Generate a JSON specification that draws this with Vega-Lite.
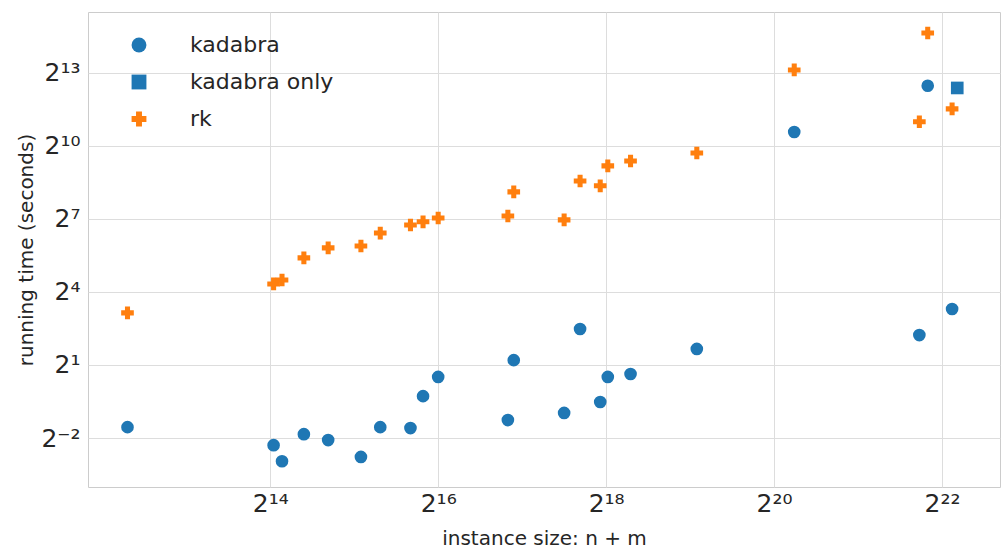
{
  "$schema": "https://vega.github.io/schema/vega-lite/v6.json",
  "width": 912,
  "height": 475,
  "autosize": "none",
  "padding": {"left": 88, "top": 12, "right": 7, "bottom": 71},
  "config": {
    "font": "DejaVu Sans",
    "view": {"stroke": "#cccccc"},
    "axis": {"gridColor": "#dddddd", "domain": false, "ticks": false, "labelColor": "#262626", "titleColor": "#262626", "titleFontWeight": "normal"}
  },
  "data": {
    "values": [
      {"size": 5043, "time": 0.341, "series": "kadabra"},
      {"size": 16845, "time": 0.204, "series": "kadabra"},
      {"size": 18056, "time": 0.129, "series": "kadabra"},
      {"size": 21627, "time": 0.279, "series": "kadabra"},
      {"size": 26430, "time": 0.236, "series": "kadabra"},
      {"size": 34636, "time": 0.146, "series": "kadabra"},
      {"size": 40630, "time": 0.341, "series": "kadabra"},
      {"size": 52135, "time": 0.332, "series": "kadabra"},
      {"size": 57840, "time": 0.824, "series": "kadabra"},
      {"size": 65536, "time": 1.424, "series": "kadabra"},
      {"size": 116500, "time": 0.417, "series": "kadabra"},
      {"size": 122300, "time": 2.297, "series": "kadabra"},
      {"size": 185360, "time": 0.511, "series": "kadabra"},
      {"size": 211440, "time": 5.58, "series": "kadabra"},
      {"size": 249700, "time": 0.697, "series": "kadabra"},
      {"size": 265800, "time": 1.424, "series": "kadabra"},
      {"size": 320700, "time": 1.548, "series": "kadabra"},
      {"size": 554200, "time": 3.16, "series": "kadabra"},
      {"size": 1238600, "time": 1520, "series": "kadabra"},
      {"size": 3479000, "time": 4.69, "series": "kadabra"},
      {"size": 3728000, "time": 5672, "series": "kadabra"},
      {"size": 4559000, "time": 9.85, "series": "kadabra"},
      {"size": 4757000, "time": 5330, "series": "kadabra only"},
      {"size": 5043, "time": 8.82, "series": "rk"},
      {"size": 16845, "time": 20.1, "series": "rk"},
      {"size": 18056, "time": 22.5, "series": "rk"},
      {"size": 21627, "time": 42.2, "series": "rk"},
      {"size": 26430, "time": 56.1, "series": "rk"},
      {"size": 34636, "time": 59.3, "series": "rk"},
      {"size": 40630, "time": 85.6, "series": "rk"},
      {"size": 52135, "time": 107.6, "series": "rk"},
      {"size": 57840, "time": 117.8, "series": "rk"},
      {"size": 65536, "time": 131.6, "series": "rk"},
      {"size": 116500, "time": 139.1, "series": "rk"},
      {"size": 122300, "time": 276.3, "series": "rk"},
      {"size": 185360, "time": 124.5, "series": "rk"},
      {"size": 211440, "time": 377, "series": "rk"},
      {"size": 249700, "time": 328.5, "series": "rk"},
      {"size": 265800, "time": 580, "series": "rk"},
      {"size": 320700, "time": 666, "series": "rk"},
      {"size": 554200, "time": 837, "series": "rk"},
      {"size": 1238600, "time": 8900, "series": "rk"},
      {"size": 3479000, "time": 2034, "series": "rk"},
      {"size": 3728000, "time": 25520, "series": "rk"},
      {"size": 4559000, "time": 2937, "series": "rk"}
    ]
  },
  "mark": {"type": "point", "filled": true, "opacity": 1, "size": 160},
  "encoding": {
    "x": {
      "field": "size", "type": "quantitative",
      "scale": {"type": "log", "base": 2, "domain": [3640, 6770000], "nice": false},
      "axis": {
        "values": [16384, 65536, 262144, 1048576, 4194304],
        "labelExpr": "{'14':'2¹⁴','16':'2¹⁶','18':'2¹⁸','20':'2²⁰','22':'2²²'}['' + round(log(datum.value)/LN2)]",
        "labelFontSize": 25, "labelPadding": 4,
        "title": "instance size: n + m", "titleFontSize": 20, "titlePadding": 12
      }
    },
    "y": {
      "field": "time", "type": "quantitative",
      "scale": {"type": "log", "base": 2, "domain": [0.062, 46340], "nice": false},
      "axis": {
        "values": [0.25, 2, 16, 128, 1024, 8192],
        "labelExpr": "{'-2':'2⁻²','1':'2¹','4':'2⁴','7':'2⁷','10':'2¹⁰','13':'2¹³'}['' + round(log(datum.value)/LN2)]",
        "labelFontSize": 25, "labelPadding": 8,
        "title": "running time (seconds)", "titleFontSize": 20
      }
    },
    "color": {
      "field": "series", "type": "nominal",
      "scale": {"domain": ["kadabra", "kadabra only", "rk"], "range": ["#1f77b4", "#1f77b4", "#ff7f0e"]},
      "legend": {
        "title": null, "orient": "none", "legendX": 40, "legendY": 22,
        "labelFontSize": 22, "symbolSize": 220, "rowPadding": 15, "labelOffset": 40, "labelColor": "#262626"
      }
    },
    "shape": {
      "field": "series", "type": "nominal",
      "scale": {"domain": ["kadabra", "kadabra only", "rk"], "range": ["circle", "square", "cross"]}
    }
  }
}
